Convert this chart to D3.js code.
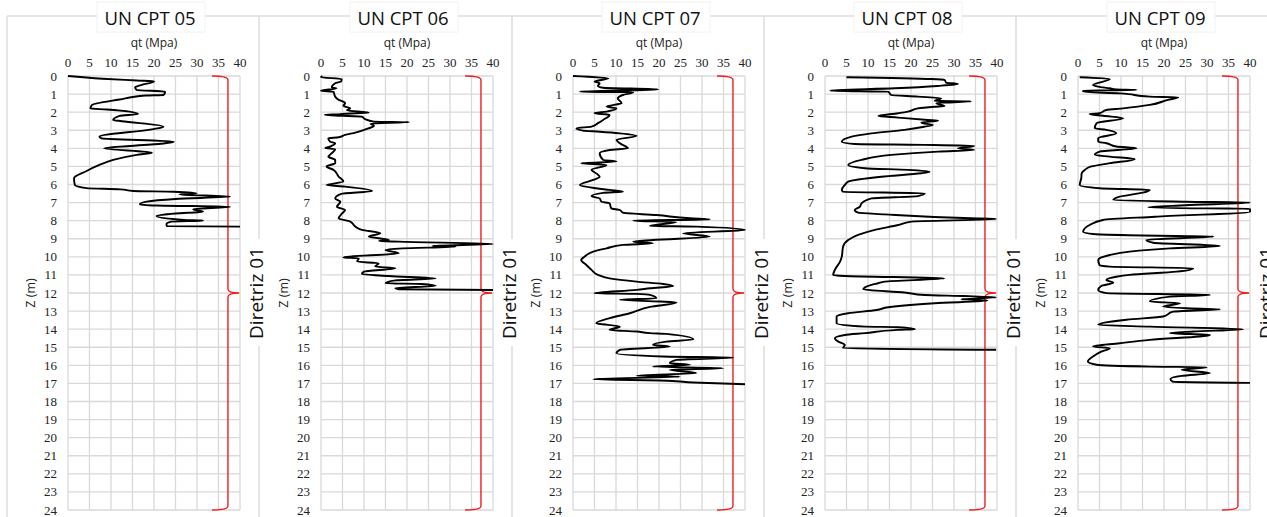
<!DOCTYPE html>
<html>
<head>
<meta charset="utf-8">
<script src="https://cdn.jsdelivr.net/npm/d3@7"></script>
<style>
  body { margin: 0; background: #fff; }
  svg { display: block; }
</style>
</head>
<body>
<svg id="chart"></svg>
<script>
// panel titles, axis ticks
const titles = ['UN CPT 05', 'UN CPT 06', 'UN CPT 07', 'UN CPT 08', 'UN CPT 09'];
const xTicks = d3.range(0, 41, 5);
const yTicks = d3.range(0, 25);
const xLabel = 'qt (Mpa)';
const yLabel = 'Z (m)';
const braceLabel = 'Diretriz 01';
// brace: depths (top, middle, bottom) and qt (start, line, tip)
const braceDepths = [0, 12, 24];
const braceQt = [33.5, 37.2, 39.8];

// [depth (m), qt (MPa)]
const cpt05 = [[0,0],[0.15,8],[0.25,16],[0.3,20],[0.5,17],[0.63,15.6],[0.77,16],[0.87,22.6],[1.05,22.2],[1.08,18],[1.3,12],[1.6,5.6],[1.8,5.2],[1.85,9],[2.1,16.3],[2.2,12],[2.43,10.5],[2.5,12.5],[2.8,22.2],[2.95,19.5],[3.35,7.3],[3.45,7.8],[3.63,24.6],[3.75,21.5],[4.0,8.4],[4.24,19.5],[4.36,16],[4.64,10.5],[4.92,7.3],[5.28,4.1],[5.65,1.4],[6.03,1.6],[6.2,4.3],[6.27,12.1],[6.36,15.2],[6.4,24.5],[6.49,29.9],[6.55,25.9],[6.67,37.7],[6.8,25],[6.95,18.3],[7.1,16.7],[7.16,20.6],[7.23,37.7],[7.37,29.1],[7.5,31.4],[7.6,25],[7.74,20.6],[7.96,27],[8.0,31.4],[8.05,24],[8.19,22.9],[8.3,23],[8.33,40]];

const cpt06 = [[0,0.3],[0.07,0],[0.17,4.8],[0.3,4.7],[0.4,3.3],[0.63,2.5],[0.68,3.6],[0.81,0],[0.88,2.9],[1.14,3.3],[1.3,4.0],[1.5,5.6],[1.65,5.2],[1.79,6.8],[1.9,6.0],[2.03,11.1],[2.06,8],[2.12,4],[2.15,0.9],[2.25,9.5],[2.39,10.3],[2.52,12.3],[2.55,20.5],[2.63,11.5],[2.76,12.3],[2.9,11.0],[3.13,8],[3.26,5.6],[3.39,4.1],[3.44,1.7],[3.63,2.1],[3.72,3.3],[3.9,2.1],[3.98,1.0],[4.05,3.3],[4.27,2.5],[4.46,1.7],[4.64,3.3],[4.82,3.3],[5.0,1.3],[5.19,2.9],[5.56,4.1],[5.84,5.2],[6.03,1.3],[6.12,5.6],[6.36,11.9],[6.52,4.7],[6.77,3.3],[6.95,4.5],[7.23,3.7],[7.41,5.6],[7.6,4.9],[7.87,4.1],[8.05,6.8],[8.33,8],[8.51,9.5],[8.7,13.8],[8.88,11.1],[9.07,15.8],[9.12,13.5],[9.16,18.1],[9.29,40],[9.4,25.9],[9.44,31.3],[9.53,19],[9.62,15],[9.8,18.1],[10.03,5.2],[10.08,8.8],[10.26,8.4],[10.36,13.4],[10.54,12.6],[10.63,17.3],[10.82,10],[10.95,9.5],[11.06,15.8],[11.2,26.7],[11.3,17.3],[11.46,15],[11.5,23.4],[11.6,26.7],[11.73,17.3],[11.79,18.1],[11.83,40]];

const cpt07 = [[0,0],[0.13,8.2],[0.31,5],[0.4,6.2],[0.55,5.8],[0.65,7],[0.74,19.8],[0.87,1.6],[0.9,14],[1.05,11.6],[1.25,10.4],[1.5,11.3],[1.69,7.8],[1.79,10.1],[1.97,7.8],[2.06,5],[2.15,8.5],[2.43,7],[2.61,5.8],[2.8,4.3],[2.89,0.8],[3.02,2.3],[3.08,6.2],[3.17,10.9],[3.31,14.8],[3.53,10.1],[3.72,10.9],[4.0,12.8],[4.09,8.5],[4.27,6.2],[4.64,7],[4.73,10.1],[4.83,1.9],[4.92,7.8],[5.19,4.3],[5.4,5.5],[5.57,6.2],[5.75,4.7],[6.03,1.6],[6.21,5.4],[6.3,8.5],[6.4,11.6],[6.46,7],[6.64,4.3],[6.77,6.2],[6.95,6.6],[7.04,8.5],[7.32,8.9],[7.41,10.9],[7.56,11.6],[7.69,19.4],[7.87,27.2],[7.93,31.8],[8.0,14],[8.08,24],[8.29,17.9],[8.33,28.7],[8.51,40],[8.7,25.6],[8.88,31.8],[9.07,18.6],[9.16,14],[9.25,18.6],[9.34,11.6],[9.53,7.8],[9.71,4.7],[9.99,2.7],[10.17,1.9],[10.45,3.1],[10.72,4.3],[11.0,5.8],[11.19,8.5],[11.37,14.8],[11.5,21],[11.61,23.3],[11.74,17.9],[11.83,14.8],[12.01,5],[12.05,14.8],[12.1,17.9],[12.29,19.4],[12.38,10.9],[12.47,20.2],[12.53,24.1],[12.77,17.9],[13.12,13.2],[13.39,8.5],[13.67,5.4],[13.86,10.9],[14.04,8.5],[14.13,14.8],[14.22,17.9],[14.26,21.7],[14.56,28],[14.69,21.7],[14.87,18.6],[14.96,22.5],[15.14,10.9],[15.33,10.1],[15.51,20.9],[15.57,37.3],[15.7,24.1],[15.88,22.5],[15.97,27.2],[16.07,18.6],[16.16,34.9],[16.25,22.5],[16.43,28.7],[16.58,14.8],[16.62,24.8],[16.77,4.7],[16.85,22],[16.95,28],[17.05,40]];

const cpt08 = [[0.07,5],[0.17,24.7],[0.22,27.8],[0.37,28.2],[0.44,30.9],[0.55,26.2],[0.68,16.2],[0.81,1.2],[0.87,14.7],[1.05,15.4],[1.14,21.6],[1.23,27],[1.38,25.5],[1.4,34],[1.5,25.9],[1.66,27.8],[1.7,25.5],[1.79,21.6],[1.97,19.3],[2.06,17],[2.21,12.4],[2.3,17],[2.43,23.9],[2.47,26.3],[2.58,22.4],[2.71,25.1],[2.8,23.2],[2.98,18.5],[3.17,10.8],[3.35,6.2],[3.63,3.9],[3.76,6.9],[3.81,23.2],[3.87,34.7],[4.0,30.9],[4.09,34.7],[4.18,26.3],[4.36,15.4],[4.64,8.5],[4.92,5.4],[5.1,9.3],[5.19,19.3],[5.29,24.3],[5.38,22.4],[5.57,13.1],[5.84,5.4],[6.03,4.6],[6.3,3.9],[6.4,4.2],[6.49,23.2],[6.64,21.6],[6.77,10.8],[7.04,8.5],[7.23,8.1],[7.41,6.9],[7.56,7.7],[7.65,13.9],[7.87,34],[7.91,39.8],[8.05,20.1],[8.24,17],[8.51,11.6],[8.79,7.7],[9.07,5.4],[9.44,4.2],[9.99,3.9],[10.26,3.5],[10.72,2.3],[11.0,1.9],[11.06,4.6],[11.19,27.8],[11.37,13.9],[11.46,12.4],[11.55,10.8],[11.79,8.9],[11.97,18.5],[12.11,23.2],[12.17,32.4],[12.24,39.8],[12.35,31.7],[12.42,37.8],[12.57,25.5],[12.79,14.7],[12.94,12],[13.12,5.4],[13.3,2.7],[13.67,2.7],[13.86,9.3],[13.89,17],[14.0,20.9],[14.04,17],[14.22,9.3],[14.32,4.6],[14.5,2.3],[14.69,3.1],[14.87,4.6],[15.05,4.2],[15.14,39.8]];

const cpt09 = [[0.07,0.4],[0.17,7.4],[0.5,3.5],[0.59,4.7],[0.68,7.4],[0.74,8.9],[0.77,13.6],[0.8,1.2],[0.87,1.2],[0.96,9.7],[1.14,16.7],[1.18,23.3],[1.32,20.9],[1.6,16.7],[1.79,10.5],[1.88,6.6],[2.06,5],[2.1,2.7],[2.2,5.8],[2.34,10.5],[2.61,4.3],[2.89,3.9],[2.98,6.6],[3.17,8.9],[3.44,4.7],[3.63,4.7],[3.72,6.6],[3.9,8.9],[4.0,13.6],[4.18,5],[4.36,3.9],[4.46,7.4],[4.6,13.2],[4.82,7.4],[5.0,3.1],[5.19,1.6],[5.47,0.8],[5.57,0.8],[6.03,0.4],[6.21,5],[6.3,16.7],[6.45,15.1],[6.67,9.7],[6.86,8.2],[6.95,25],[7.0,40],[7.15,25],[7.26,16.3],[7.32,30],[7.34,40],[7.5,40],[7.78,17.9],[7.96,5.8],[8.24,2.7],[8.61,1.2],[8.74,3.5],[8.85,22.9],[8.88,31.5],[9.07,15.9],[9.22,17.5],[9.4,33],[9.53,21.4],[9.71,12],[9.9,7.4],[10.17,4.7],[10.45,5],[10.54,7.4],[10.63,26.8],[10.82,22.9],[11.0,12],[11.1,8.9],[11.28,6.6],[11.43,8.2],[11.61,5.4],[11.83,4.7],[12.01,6.6],[12.11,30.7],[12.2,21.4],[12.47,16.7],[12.57,23.7],[12.75,19.8],[12.84,25.2],[12.9,33],[13.03,22.1],[13.3,19.8],[13.48,11.3],[13.76,4.7],[13.86,16.7],[14.0,38.4],[14.13,26.8],[14.22,21.4],[14.32,30.7],[14.59,16.7],[14.78,9.7],[14.96,3.5],[15.05,7.4],[15.24,5.4],[15.51,3.5],[15.79,2.3],[15.97,4.3],[16.07,16.7],[16.1,29.9],[16.25,24.1],[16.43,30.7],[16.58,24.1],[16.75,21.5],[16.9,22],[16.97,40]];

const profiles = [cpt05, cpt06, cpt07, cpt08, cpt09];

const W = 1267, H = 517;
const plotLefts = [68, 321, 573, 825, 1078];
const plotW = 172, plotTop = 76, plotBottom = 510;
const gridColor = '#d9d9d9';
const frameColor = '#dcdcdc';
const sans = "'Open Sans', 'Noto Sans', sans-serif";
const serif = "'Liberation Serif', 'DejaVu Serif', serif";

const svg = d3.select('#chart').attr('width', W).attr('height', H);
svg.append('rect').attr('width', W).attr('height', H).attr('fill', '#fff');

// outer frame of the panels
const frame = svg.append('g');
frame.append('line')
    .attr('x1', 7).attr('x2', W).attr('y1', 16).attr('y2', 16)
    .attr('stroke', frameColor).attr('stroke-width', 1.5);
frame.selectAll('line.v')
    .data([7].concat(plotLefts.slice(0, 4).map(d => d + plotW + 19)))
    .join('line')
    .attr('class', 'v')
    .attr('x1', d => d).attr('x2', d => d)
    .attr('y1', 16).attr('y2', H)
    .attr('stroke', frameColor).attr('stroke-width', 1.5);

class CptPanel {
    constructor(left, title, data) {
        this.left = left;
        this.title = title;
        this.data = data;
        this.x = d3.scaleLinear().domain([0, 40]).range([left, left + plotW]);
        this.y = d3.scaleLinear().domain([0, 24]).range([plotTop, plotBottom]);
        this.g = svg.append('g');
    }

    render() {
        let self = this;
        const x = self.x, y = self.y, g = self.g;
        const cx = self.left + plotW / 2;

        // title box
        g.append('rect')
            .attr('x', cx - 57).attr('y', 2).attr('width', 108).attr('height', 30)
            .attr('fill', '#fff').attr('stroke', '#f2f2f2');
        g.append('text')
            .attr('x', cx - 4).attr('y', 25)
            .attr('text-anchor', 'middle')
            .attr('font-family', sans).attr('font-size', 18.5)
            .attr('fill', '#111')
            .text(self.title);
        g.append('text')
            .attr('x', cx).attr('y', 47)
            .attr('text-anchor', 'middle')
            .attr('font-family', sans).attr('font-size', 12)
            .attr('fill', '#222')
            .text(xLabel);

        // grid
        g.selectAll('line.gx').data(xTicks).join('line')
            .attr('class', 'gx')
            .attr('x1', d => x(d)).attr('x2', d => x(d))
            .attr('y1', plotTop).attr('y2', plotBottom)
            .attr('stroke', gridColor).attr('stroke-width', 1.3);
        g.selectAll('line.gy').data(yTicks).join('line')
            .attr('class', 'gy')
            .attr('x1', x(0)).attr('x2', x(40))
            .attr('y1', d => y(d)).attr('y2', d => y(d))
            .attr('stroke', gridColor).attr('stroke-width', 1.3);

        // tick labels
        g.selectAll('text.tx').data(xTicks).join('text')
            .attr('class', 'tx')
            .attr('x', d => x(d)).attr('y', 66.5)
            .attr('text-anchor', 'middle')
            .attr('font-family', serif).attr('font-size', 13)
            .attr('fill', '#222')
            .text(d => d);
        g.selectAll('text.ty').data(yTicks).join('text')
            .attr('class', 'ty')
            .attr('x', x(0) - 11).attr('y', d => y(d) + 4.5)
            .attr('text-anchor', 'end')
            .attr('font-family', serif).attr('font-size', 13)
            .attr('fill', '#222')
            .text(d => d);

        g.append('text')
            .attr('transform', `translate(${self.left - 33}, ${(plotTop + plotBottom) / 2}) rotate(-90)`)
            .attr('text-anchor', 'middle')
            .attr('font-family', sans).attr('font-size', 12.5)
            .attr('fill', '#222')
            .text(yLabel);

        // brace
        const bx0 = x(braceQt[0]), bx1 = x(braceQt[1]), bx2 = x(braceQt[2]);
        const by0 = y(braceDepths[0]), by1 = y(braceDepths[1]), by2 = y(braceDepths[2]);
        const r = 4;
        const brace = d3.path();
        brace.moveTo(bx0, by0);
        brace.quadraticCurveTo(bx1, by0, bx1, by0 + r);
        brace.lineTo(bx1, by1 - r);
        brace.quadraticCurveTo(bx1, by1, bx2, by1);
        brace.quadraticCurveTo(bx1, by1, bx1, by1 + r);
        brace.lineTo(bx1, by2 - r);
        brace.quadraticCurveTo(bx1, by2, bx0, by2);
        g.append('path')
            .attr('d', brace.toString())
            .attr('fill', 'none')
            .attr('stroke', '#f21d1d')
            .attr('stroke-width', 1.4);

        // cpt profile
        const line = d3.line()
            .x(d => x(d[1]))
            .y(d => y(d[0]))
            .curve(d3.curveMonotoneY);
        g.append('path')
            .datum(self.data)
            .attr('d', line)
            .attr('fill', 'none')
            .attr('stroke', '#000')
            .attr('stroke-width', 1.9)
            .attr('stroke-linejoin', 'round');

        // brace label
        const lx = x(40) + 16, ly = y(12);
        g.append('rect')
            .attr('x', x(40) + 1.5).attr('y', ly - 54).attr('width', 27).attr('height', 107)
            .attr('fill', '#fff');
        g.append('text')
            .attr('transform', `translate(${lx + 7}, ${ly}) rotate(-90)`)
            .attr('text-anchor', 'middle')
            .attr('font-family', sans).attr('font-size', 19)
            .attr('fill', '#111')
            .text(braceLabel);
    }
}

titles.forEach((t, i) => {
    const panel = new CptPanel(plotLefts[i], t, profiles[i]);
    panel.render();
});
</script>
</body>
</html>
